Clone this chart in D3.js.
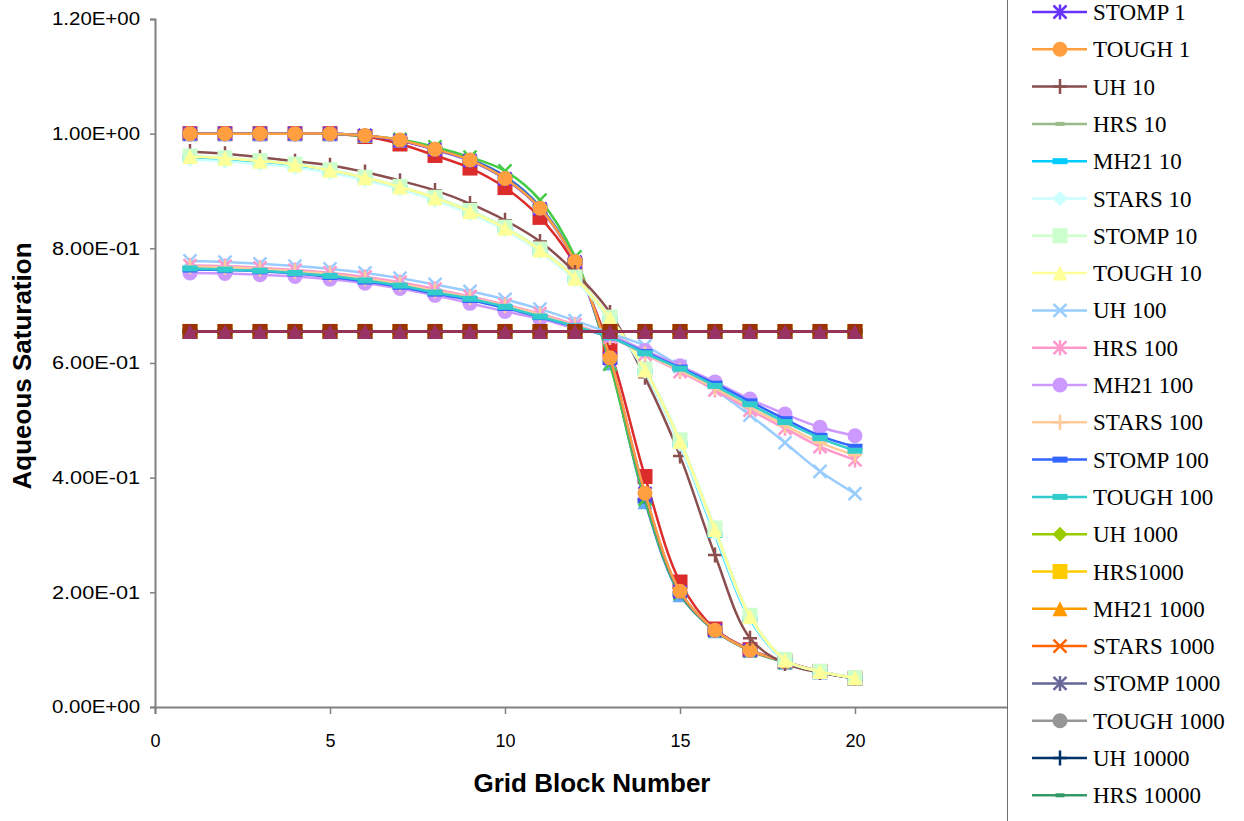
<!DOCTYPE html>
<html>
<head>
<meta charset="utf-8">
<script src="https://cdn.jsdelivr.net/npm/d3@7"></script>
<style>
  body { margin: 0; background: #fff; }
  svg { display: block; }
</style>
</head>
<body>
<div id="chart"></div>
<script>
// Grid block numbers (x categories)
var gridBlocks = [1, 2, 3, 4, 5, 6, 7, 8, 9, 10, 11, 12, 13, 14, 15, 16, 17, 18, 19, 20];

var yTicks = [0, 0.2, 0.4, 0.6, 0.8, 1.0, 1.2];
var xTicks = [0, 5, 10, 15, 20];

// time = 1
var uh1    = [1, 1, 1, 1, 1, 0.995, 0.982, 0.962, 0.940, 0.906, 0.854, 0.771, 0.622, 0.402, 0.218, 0.136, 0.100, 0.079, 0.062, 0.050];
var hrs1   = [1, 1, 1, 1, 1, 0.997, 0.989, 0.974, 0.956, 0.926, 0.873, 0.779, 0.600, 0.358, 0.196, 0.133, 0.099, 0.078, 0.061, 0.050];
var mh211  = [1, 1, 1, 1, 1, 0.997, 0.988, 0.973, 0.955, 0.925, 0.872, 0.778, 0.602, 0.360, 0.197, 0.133, 0.099, 0.078, 0.061, 0.050];
var stars1 = [1, 1, 1, 1, 1, 0.996, 0.990, 0.977, 0.959, 0.935, 0.884, 0.785, 0.598, 0.362, 0.198, 0.133, 0.098, 0.078, 0.061, 0.050];
var stomp1 = [1, 1, 1, 1, 1, 0.997, 0.988, 0.972, 0.953, 0.921, 0.869, 0.776, 0.608, 0.372, 0.201, 0.134, 0.099, 0.079, 0.062, 0.050];
var tough1 = [1, 1, 1, 1, 1, 0.997, 0.989, 0.973, 0.954, 0.922, 0.870, 0.777, 0.609, 0.373, 0.202, 0.134, 0.099, 0.079, 0.062, 0.050];

// time = 10
var uh10    = [0.969, 0.965, 0.959, 0.952, 0.945, 0.933, 0.918, 0.901, 0.878, 0.849, 0.812, 0.758, 0.688, 0.575, 0.438, 0.265, 0.120, 0.076, 0.060, 0.050];
var hrs10   = [0.959, 0.956, 0.951, 0.945, 0.935, 0.922, 0.906, 0.887, 0.863, 0.834, 0.796, 0.747, 0.677, 0.587, 0.461, 0.306, 0.157, 0.082, 0.062, 0.051];
var mh2110  = [0.958, 0.955, 0.950, 0.944, 0.934, 0.921, 0.905, 0.886, 0.862, 0.833, 0.795, 0.746, 0.676, 0.585, 0.458, 0.300, 0.153, 0.081, 0.062, 0.051];
var stars10 = [0.955, 0.952, 0.947, 0.941, 0.932, 0.919, 0.903, 0.884, 0.860, 0.832, 0.794, 0.745, 0.675, 0.585, 0.458, 0.303, 0.155, 0.081, 0.062, 0.051];
var stomp10 = [0.961, 0.958, 0.953, 0.947, 0.937, 0.924, 0.908, 0.889, 0.866, 0.837, 0.799, 0.750, 0.680, 0.590, 0.466, 0.312, 0.160, 0.083, 0.062, 0.051];
var tough10 = [0.960, 0.957, 0.952, 0.946, 0.936, 0.923, 0.907, 0.888, 0.864, 0.835, 0.797, 0.748, 0.678, 0.588, 0.463, 0.309, 0.158, 0.082, 0.062, 0.051];

// time = 100
var uh100    = [0.778, 0.776, 0.773, 0.769, 0.764, 0.757, 0.748, 0.737, 0.725, 0.711, 0.694, 0.674, 0.652, 0.630, 0.594, 0.553, 0.509, 0.461, 0.411, 0.372];
var hrs100   = [0.770, 0.769, 0.766, 0.762, 0.757, 0.750, 0.741, 0.729, 0.716, 0.702, 0.686, 0.667, 0.645, 0.615, 0.585, 0.553, 0.518, 0.486, 0.454, 0.431];
var mh21100  = [0.757, 0.756, 0.754, 0.751, 0.746, 0.739, 0.730, 0.718, 0.704, 0.690, 0.677, 0.661, 0.648, 0.622, 0.595, 0.567, 0.537, 0.511, 0.488, 0.473];
var stars100 = [0.768, 0.767, 0.764, 0.760, 0.755, 0.747, 0.738, 0.726, 0.714, 0.700, 0.684, 0.665, 0.645, 0.616, 0.587, 0.556, 0.523, 0.491, 0.461, 0.439];
var stomp100 = [0.763, 0.762, 0.760, 0.756, 0.750, 0.742, 0.733, 0.721, 0.710, 0.696, 0.680, 0.663, 0.645, 0.619, 0.592, 0.564, 0.533, 0.502, 0.473, 0.454];
var tough100 = [0.765, 0.763, 0.761, 0.757, 0.752, 0.744, 0.735, 0.723, 0.712, 0.698, 0.681, 0.664, 0.645, 0.617, 0.590, 0.560, 0.528, 0.497, 0.469, 0.447];

// time = 1000
var uh1000    = [0.655, 0.655, 0.655, 0.655, 0.655, 0.655, 0.655, 0.655, 0.655, 0.655, 0.655, 0.655, 0.655, 0.655, 0.655, 0.655, 0.655, 0.655, 0.655, 0.655];
var hrs1000   = [0.655, 0.655, 0.655, 0.655, 0.655, 0.655, 0.655, 0.655, 0.655, 0.655, 0.655, 0.655, 0.655, 0.655, 0.655, 0.655, 0.655, 0.655, 0.655, 0.655];
var mh211000  = [0.655, 0.655, 0.655, 0.655, 0.655, 0.655, 0.655, 0.655, 0.655, 0.655, 0.655, 0.655, 0.655, 0.655, 0.655, 0.655, 0.655, 0.655, 0.655, 0.655];
var stars1000 = [0.655, 0.655, 0.655, 0.655, 0.655, 0.655, 0.655, 0.655, 0.655, 0.655, 0.655, 0.655, 0.655, 0.655, 0.655, 0.655, 0.655, 0.655, 0.655, 0.655];
var stomp1000 = [0.655, 0.655, 0.655, 0.655, 0.655, 0.655, 0.655, 0.655, 0.655, 0.655, 0.655, 0.655, 0.655, 0.655, 0.655, 0.655, 0.655, 0.655, 0.655, 0.655];
var tough1000 = [0.655, 0.655, 0.655, 0.655, 0.655, 0.655, 0.655, 0.655, 0.655, 0.655, 0.655, 0.655, 0.655, 0.655, 0.655, 0.655, 0.655, 0.655, 0.655, 0.655];

// time = 10000
var uh10000    = [0.655, 0.655, 0.655, 0.655, 0.655, 0.655, 0.655, 0.655, 0.655, 0.655, 0.655, 0.655, 0.655, 0.655, 0.655, 0.655, 0.655, 0.655, 0.655, 0.655];
var hrs10000   = [0.655, 0.655, 0.655, 0.655, 0.655, 0.655, 0.655, 0.655, 0.655, 0.655, 0.655, 0.655, 0.655, 0.655, 0.655, 0.655, 0.655, 0.655, 0.655, 0.655];
var mh2110000  = [0.655, 0.655, 0.655, 0.655, 0.655, 0.655, 0.655, 0.655, 0.655, 0.655, 0.655, 0.655, 0.655, 0.655, 0.655, 0.655, 0.655, 0.655, 0.655, 0.655];
var stars10000 = [0.655, 0.655, 0.655, 0.655, 0.655, 0.655, 0.655, 0.655, 0.655, 0.655, 0.655, 0.655, 0.655, 0.655, 0.655, 0.655, 0.655, 0.655, 0.655, 0.655];
var stomp10000 = [0.655, 0.655, 0.655, 0.655, 0.655, 0.655, 0.655, 0.655, 0.655, 0.655, 0.655, 0.655, 0.655, 0.655, 0.655, 0.655, 0.655, 0.655, 0.655, 0.655];
var tough10000 = [0.655, 0.655, 0.655, 0.655, 0.655, 0.655, 0.655, 0.655, 0.655, 0.655, 0.655, 0.655, 0.655, 0.655, 0.655, 0.655, 0.655, 0.655, 0.655, 0.655];

var seriesNames = [
    'UH 1', 'HRS 1', 'MH21 1', 'STARS 1', 'STOMP 1', 'TOUGH 1',
    'UH 10', 'HRS 10', 'MH21 10', 'STARS 10', 'STOMP 10', 'TOUGH 10',
    'UH 100', 'HRS 100', 'MH21 100', 'STARS 100', 'STOMP 100', 'TOUGH 100',
    'UH 1000', 'HRS1000', 'MH21 1000', 'STARS 1000', 'STOMP 1000', 'TOUGH 1000',
    'UH 10000', 'HRS 10000', 'MH21 10000', 'STARS 10000', 'STOMP 10000', 'TOUGH 10000'
];
var seriesValues = [
    uh1, hrs1, mh211, stars1, stomp1, tough1,
    uh10, hrs10, mh2110, stars10, stomp10, tough10,
    uh100, hrs100, mh21100, stars100, stomp100, tough100,
    uh1000, hrs1000, mh211000, stars1000, stomp1000, tough1000,
    uh10000, hrs10000, mh2110000, stars10000, stomp10000, tough10000
];

// Excel-like styles per series
var seriesColors = [
    '#dc2b2b', '#66aaff', '#3366cc', '#44cc44', '#6633ff', '#ff9f40',
    '#8b4f4f', '#99bb88', '#00ccff', '#ccffff', '#ccffcc', '#ffff99',
    '#99ccff', '#ff99cc', '#cc99ff', '#ffcc99', '#3366ff', '#33cccc',
    '#99cc00', '#ffcc00', '#ff9900', '#ff6600', '#666699', '#969696',
    '#003366', '#339966', '#003300', '#333300', '#993300', '#993366'
];
var seriesMarkers = [
    'square', 'triangle', 'dash', 'x', 'star', 'circle',
    'plus', 'smalldash', 'dash', 'diamond', 'square', 'triangle',
    'x', 'star', 'circle', 'plus', 'dash', 'dash',
    'diamond', 'square', 'triangle', 'x', 'star', 'circle',
    'plus', 'smalldash', 'dash', 'x', 'square', 'triangle'
];

var width = 1244,
    height = 821;

var svg = d3.select('#chart').append('svg')
    .attr('width', width)
    .attr('height', height);

var x = d3.scaleLinear().domain([0, 25]).range([155, 1030]);
var y = d3.scaleLinear().domain([0, 1.2]).range([707, 19]);

function sciFormat(v) {
    var parts = v.toExponential(2).split('e');
    var e = parseInt(parts[1], 10);
    var sign = e < 0 ? '-' : '+';
    var ae = Math.abs(e);
    return parts[0] + 'E' + sign + (ae < 10 ? '0' + ae : '' + ae);
}

// Axes
var yAxis = d3.axisLeft(y).tickValues(yTicks).tickSize(5).tickPadding(10).tickFormat(sciFormat);
var xAxis = d3.axisBottom(x).tickValues(xTicks).tickSize(7).tickPadding(20).tickFormat(d3.format('d'));

var gy = svg.append('g')
    .attr('transform', 'translate(155,0)')
    .call(yAxis);
var gx = svg.append('g')
    .attr('transform', 'translate(0,707)')
    .call(xAxis);

[gx, gy].forEach(function (g) {
    g.select('.domain').attr('stroke', '#808080').attr('stroke-width', 2);
    g.selectAll('.tick line').attr('stroke', '#808080').attr('stroke-width', 1.5);
    g.selectAll('.tick text')
        .attr('fill', '#000')
        .style('font-family', '"Liberation Sans", Arial, sans-serif')
        .style('font-size', '18px');
});
gy.selectAll('.tick text').attr('textLength', 88).attr('lengthAdjust', 'spacingAndGlyphs');

// Axis titles
svg.append('text')
    .attr('transform', 'translate(31,366) rotate(-90)')
    .attr('text-anchor', 'middle')
    .style('font-family', '"Liberation Sans", Arial, sans-serif')
    .style('font-weight', 'bold')
    .style('font-size', '26px')
    .text('Aqueous Saturation');

svg.append('text')
    .attr('x', 592)
    .attr('y', 792)
    .attr('text-anchor', 'middle')
    .style('font-family', '"Liberation Sans", Arial, sans-serif')
    .style('font-weight', 'bold')
    .style('font-size', '26px')
    .text('Grid Block Number');

// Marker drawing
function drawMarker(g, type, color, cx, cy) {
    var s = 7.5;
    switch (type) {
        case 'square':
            g.append('rect').attr('x', cx - s).attr('y', cy - s).attr('width', 2 * s).attr('height', 2 * s).attr('fill', color);
            break;
        case 'circle':
            g.append('circle').attr('cx', cx).attr('cy', cy).attr('r', s).attr('fill', color);
            break;
        case 'triangle':
            g.append('path').attr('d', 'M' + cx + ',' + (cy - s) + 'L' + (cx + s) + ',' + (cy + s) + 'L' + (cx - s) + ',' + (cy + s) + 'Z').attr('fill', color);
            break;
        case 'diamond':
            g.append('path').attr('d', 'M' + cx + ',' + (cy - s) + 'L' + (cx + s) + ',' + cy + 'L' + cx + ',' + (cy + s) + 'L' + (cx - s) + ',' + cy + 'Z').attr('fill', color);
            break;
        case 'x':
            g.append('path').attr('d', 'M' + (cx - 6.5) + ',' + (cy - 6.5) + 'L' + (cx + 6.5) + ',' + (cy + 6.5) + 'M' + (cx + 6.5) + ',' + (cy - 6.5) + 'L' + (cx - 6.5) + ',' + (cy + 6.5))
                .attr('stroke', color).attr('stroke-width', 2.5).attr('fill', 'none');
            break;
        case 'star':
            g.append('path').attr('d', 'M' + (cx - 6.5) + ',' + (cy - 6.5) + 'L' + (cx + 6.5) + ',' + (cy + 6.5) + 'M' + (cx + 6.5) + ',' + (cy - 6.5) + 'L' + (cx - 6.5) + ',' + (cy + 6.5) + 'M' + cx + ',' + (cy - 7.5) + 'L' + cx + ',' + (cy + 7.5))
                .attr('stroke', color).attr('stroke-width', 2.5).attr('fill', 'none');
            break;
        case 'plus':
            g.append('path').attr('d', 'M' + (cx - 7) + ',' + cy + 'L' + (cx + 7) + ',' + cy + 'M' + cx + ',' + (cy - 7.5) + 'L' + cx + ',' + (cy + 7.5))
                .attr('stroke', color).attr('stroke-width', 2.5).attr('fill', 'none');
            break;
        case 'dash':
            g.append('rect').attr('x', cx - 7.5).attr('y', cy - 3).attr('width', 15).attr('height', 6).attr('fill', color);
            break;
        case 'smalldash':
            g.append('rect').attr('x', cx - 4.5).attr('y', cy - 2).attr('width', 9).attr('height', 4).attr('fill', color);
            break;
    }
}

// Series (drawn in order, later ones on top)
var line = d3.line()
    .x(function (d) { return x(d.x); })
    .y(function (d) { return y(d.y); })
    .curve(d3.curveCatmullRom.alpha(0.5));

var plot = svg.append('g').attr('class', 'series');

seriesValues.forEach(function (vals, i) {
    var pts = gridBlocks.map(function (b, j) { return { x: b, y: vals[j] }; });
    var g = plot.append('g');
    g.append('path')
        .datum(pts)
        .attr('d', line)
        .attr('fill', 'none')
        .attr('stroke', seriesColors[i])
        .attr('stroke-width', 2.5);
    pts.forEach(function (p) {
        drawMarker(g, seriesMarkers[i], seriesColors[i], x(p.x), y(p.y));
    });
});

// Legend box: it runs past the top and bottom of the frame, so only
// the entries that fall inside the picture are drawn
var legendTop = 12 - 4 * 37.3;
svg.append('rect')
    .attr('x', 1007.5)
    .attr('y', -10)
    .attr('width', 300)
    .attr('height', 850)
    .attr('fill', '#fff')
    .attr('stroke', '#707070')
    .attr('stroke-width', 1);

var legend = svg.append('g').attr('class', 'legend');
seriesNames.forEach(function (name, i) {
    var cy = legendTop + i * 37.3;
    if (cy < 0 || cy > height - 15) return;
    var g = legend.append('g');
    g.append('line')
        .attr('x1', 1032).attr('x2', 1087)
        .attr('y1', cy).attr('y2', cy)
        .attr('stroke', seriesColors[i])
        .attr('stroke-width', 2.5);
    drawMarker(g, seriesMarkers[i], seriesColors[i], 1060, cy);
    g.append('text')
        .attr('x', 1093)
        .attr('y', cy + 8)
        .style('font-family', '"Liberation Serif", "Times New Roman", serif')
        .style('font-size', '23px')
        .text(name);
});
</script>
</body>
</html>
